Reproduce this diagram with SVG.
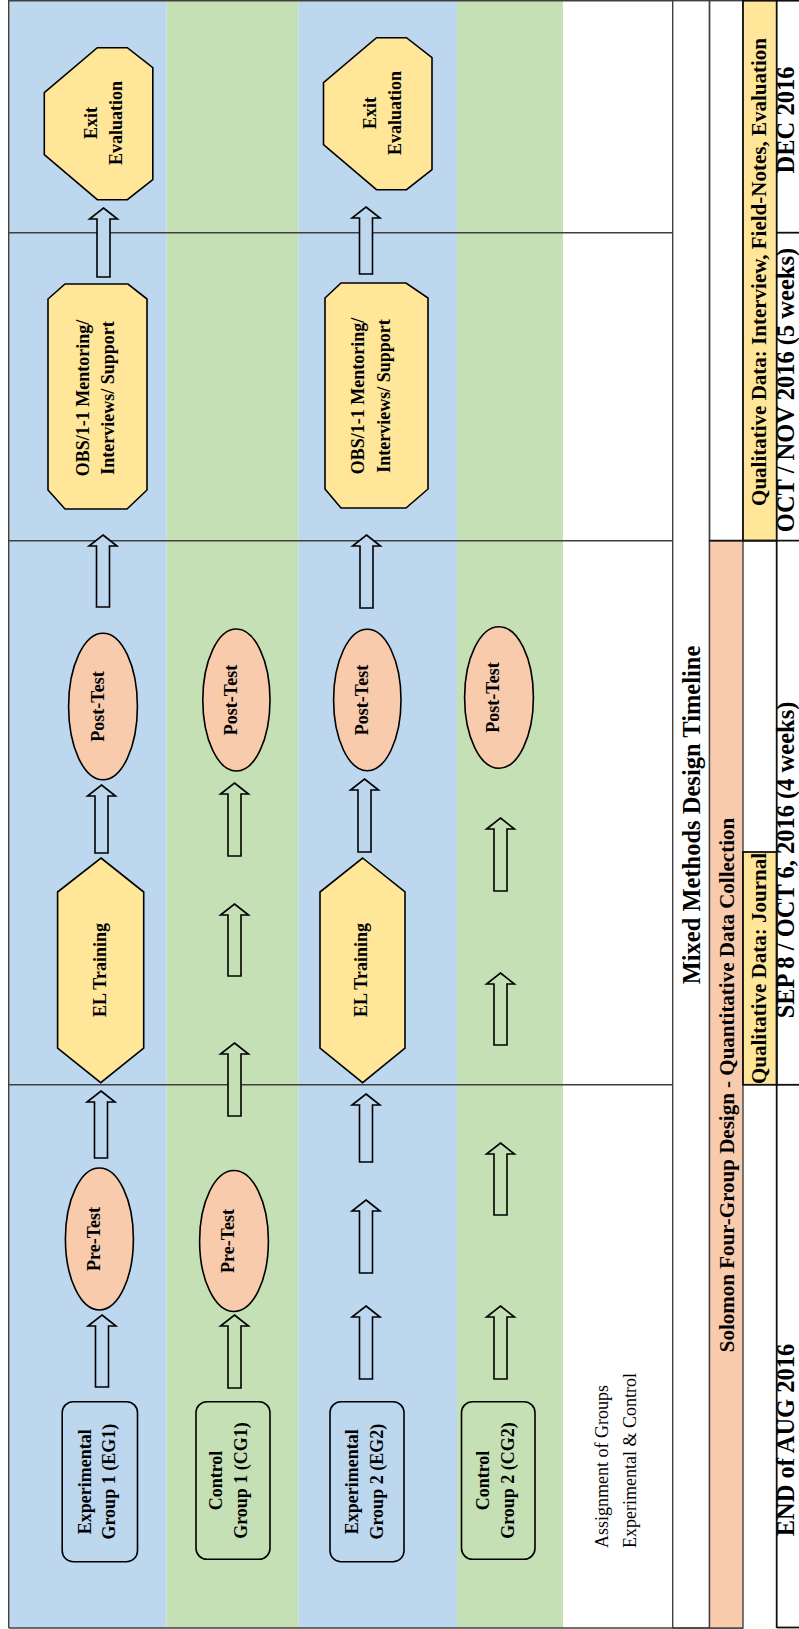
<svg xmlns="http://www.w3.org/2000/svg" width="799" height="1629" viewBox="0 0 799 1629">
  <style>
    .eg { fill: #BDD7EE; }
    .cg { fill: #C5E0B4; }
    .grid { stroke: #404040; stroke-width: 1.4; fill: none; }
    .bold-line { stroke: #111; stroke-width: 1.8; fill: none; }
    .shape { stroke: #000; stroke-width: 1.6; }
    .yel { fill: #FFE699; }
    .pch { fill: #F8CBAD; }
    .arrow { stroke: #000; stroke-width: 1.6; stroke-linejoin: miter; }
    text { font-family: "Liberation Serif", "Times New Roman", serif; font-weight: bold; font-size: 18px; text-anchor: middle; fill: #000; }
    .title { font-size: 24.5px; }
    .sub { font-size: 21px; }
    .date { font-size: 24.5px; }
    .plain { font-weight: normal; text-anchor: start; }
  </style>

  <!-- swimlane backgrounds -->
  <g id="lanes">
    <rect x="0" y="0" width="799" height="1629" fill="#FFFFFF"/>
    <rect class="eg" x="8.7" y="0" width="157.9" height="1628"/>
    <rect class="cg" x="166.6" y="0" width="132" height="1628"/>
    <rect class="eg" x="298.6" y="0" width="158.4" height="1628"/>
    <rect class="cg" x="457" y="0" width="106" height="1628"/>
  </g>

  <!-- table frame and header columns -->
  <g id="table">
    <line class="grid" x1="8.7" y1="0" x2="8.7" y2="1628"/>
    <line class="grid" x1="8.7" y1="0.7" x2="672.7" y2="0.7"/>
    <line class="grid" x1="8.7" y1="1628" x2="743" y2="1628"/>
    <line class="grid" x1="8.7" y1="232.7" x2="672.7" y2="232.7"/>
    <line class="grid" x1="8.7" y1="540.7" x2="672.7" y2="540.7"/>
    <line class="grid" x1="8.7" y1="1084.8" x2="672.7" y2="1084.8"/>

    <rect x="672.7" y="0.7" width="36.8" height="1627.3" fill="#8FAADC" class="grid"/>
    <rect x="709.5" y="0.7" width="33.5" height="540" fill="#FFFFFF" class="grid"/>
    <rect x="709.5" y="540.7" width="33.5" height="1087.3" class="pch grid"/>
    <rect x="743" y="0.7" width="33.7" height="540" class="yel bold-line"/>
    <rect x="743" y="852" width="33.7" height="232.8" class="yel bold-line"/>
    <line class="bold-line" x1="776.7" y1="540.7" x2="776.7" y2="1628"/>
    <line class="bold-line" x1="776.7" y1="0.7" x2="799" y2="0.7"/>
    <line class="bold-line" x1="776.7" y1="232.7" x2="799" y2="232.7"/>
    <line class="bold-line" x1="709.5" y1="540.7" x2="799" y2="540.7"/>
    <line class="bold-line" x1="776.7" y1="1084.8" x2="799" y2="1084.8"/>
    <line class="bold-line" x1="776.7" y1="1627.5" x2="799" y2="1627.5"/>

    <text class="title" transform="translate(0 815) rotate(-90)" x="0" y="700">Mixed Methods Design Timeline</text>
    <text class="sub" transform="translate(0 1085) rotate(-90)" x="0" y="733.5">Solomon Four-Group Design - Quantitative Data Collection</text>
    <text class="sub" transform="translate(0 272) rotate(-90)" x="0" y="766">Qualitative Data: Interview, Field-Notes, Evaluation</text>
    <text class="sub" transform="translate(0 968.5) rotate(-90)" x="0" y="766">Qualitative Data: Journal</text>

    <!-- date row, set tight against the right edge -->
    <text class="date" transform="translate(0 120) rotate(-90)" x="0" y="793.5">DEC 2016</text>
    <text class="date" transform="translate(0 390) rotate(-90)" x="0" y="793.5">OCT / NOV 2016 (5 weeks)</text>
    <text class="date" transform="translate(0 860) rotate(-90)" x="0" y="793.5">SEP 8 / OCT 6, 2016 (4 weeks)</text>
    <text class="date" transform="translate(0 1440) rotate(-90)" x="0" y="793.5">END of AUG 2016</text>

    <text class="plain" transform="translate(0 1548) rotate(-90)"><tspan x="0" y="608">Assignment of Groups</tspan><tspan x="0" y="636">Experimental &amp; Control</tspan></text>
  </g>

  <!-- block arrows between steps -->
  <g id="connectors">
    <path class="arrow eg" d="M102,1315 L116,1326 L108.5,1326 L108.5,1387 L95.5,1387 L95.5,1326 L88,1326 Z"/>
    <path class="arrow eg" d="M101,1091 L115,1102 L107.5,1102 L107.5,1158 L94.5,1158 L94.5,1102 L87,1102 Z"/>
    <path class="arrow eg" d="M101.5,785 L115.5,796 L108,796 L108,853 L95,853 L95,796 L87.5,796 Z"/>
    <path class="arrow eg" d="M103,535 L117,546 L109.5,546 L109.5,607 L96.5,607 L96.5,546 L89,546 Z"/>
    <path class="arrow eg" d="M103.5,208 L117.5,219 L110,219 L110,277 L97,277 L97,219 L89.5,219 Z"/>

    <path class="arrow cg" d="M234.5,1315 L248.5,1326 L241,1326 L241,1388 L228,1388 L228,1326 L220.5,1326 Z"/>
    <path class="arrow cg" d="M234.5,1043 L248.5,1054 L241,1054 L241,1116 L228,1116 L228,1054 L220.5,1054 Z"/>
    <path class="arrow cg" d="M234.5,904 L248.5,915 L241,915 L241,976 L228,976 L228,915 L220.5,915 Z"/>
    <path class="arrow cg" d="M234.5,783 L248.5,794 L241,794 L241,856 L228,856 L228,794 L220.5,794 Z"/>

    <path class="arrow eg" d="M366,1306 L380,1317 L372.5,1317 L372.5,1379 L359.5,1379 L359.5,1317 L352,1317 Z"/>
    <path class="arrow eg" d="M366,1200 L380,1211 L372.5,1211 L372.5,1273 L359.5,1273 L359.5,1211 L352,1211 Z"/>
    <path class="arrow eg" d="M366,1094 L380,1105 L372.5,1105 L372.5,1162 L359.5,1162 L359.5,1105 L352,1105 Z"/>
    <path class="arrow eg" d="M364.5,779 L378.5,790 L371,790 L371,852 L358,852 L358,790 L350.5,790 Z"/>
    <path class="arrow eg" d="M366.5,535 L380.5,546 L373,546 L373,608 L360,608 L360,546 L352.5,546 Z"/>
    <path class="arrow eg" d="M366,207 L380,218 L372.5,218 L372.5,274 L359.5,274 L359.5,218 L352,218 Z"/>

    <path class="arrow cg" d="M500.5,1306 L514.5,1317 L507,1317 L507,1379 L494,1379 L494,1317 L486.5,1317 Z"/>
    <path class="arrow cg" d="M500.5,1143 L514.5,1154 L507,1154 L507,1215 L494,1215 L494,1154 L486.5,1154 Z"/>
    <path class="arrow cg" d="M500.5,973 L514.5,984 L507,984 L507,1045 L494,1045 L494,984 L486.5,984 Z"/>
    <path class="arrow cg" d="M500.5,818 L514.5,829 L507,829 L507,891 L494,891 L494,829 L486.5,829 Z"/>
  </g>

  <!-- group boxes -->
  <g id="eg1-group">
    <rect class="shape eg" x="62.2" y="1401.7" width="75.3" height="160" rx="11"/>
    <text transform="translate(0 1481.7) rotate(-90)"><tspan x="0" y="91">Experimental</tspan><tspan x="0" y="115">Group 1 (EG1)</tspan></text>
  </g>
  <g id="cg1-group">
    <rect class="shape cg" x="196" y="1401.7" width="74" height="157.6" rx="11"/>
    <text transform="translate(0 1480.5) rotate(-90)"><tspan x="0" y="221.5">Control</tspan><tspan x="0" y="246.5">Group 1 (CG1)</tspan></text>
  </g>
  <g id="eg2-group">
    <rect class="shape eg" x="330" y="1401.7" width="74" height="160" rx="11"/>
    <text transform="translate(0 1481.7) rotate(-90)"><tspan x="0" y="357.5">Experimental</tspan><tspan x="0" y="383">Group 2 (EG2)</tspan></text>
  </g>
  <g id="cg2-group">
    <rect class="shape cg" x="461.5" y="1401.7" width="73.5" height="157.6" rx="11"/>
    <text transform="translate(0 1480.5) rotate(-90)"><tspan x="0" y="488.5">Control</tspan><tspan x="0" y="514">Group 2 (CG2)</tspan></text>
  </g>

  <!-- pre-tests -->
  <g id="eg1-pretest">
    <ellipse class="shape pch" cx="99.4" cy="1239" rx="34" ry="71"/>
    <text transform="translate(0 1239) rotate(-90)" x="0" y="99.5">Pre-Test</text>
  </g>
  <g id="cg1-pretest">
    <ellipse class="shape pch" cx="234" cy="1241" rx="34.4" ry="70.5"/>
    <text transform="translate(0 1241) rotate(-90)" x="0" y="234">Pre-Test</text>
  </g>

  <!-- training -->
  <g id="eg1-training">
    <polygon class="shape yel" points="101,858 143.7,892 143.7,1048 100.7,1082.7 57.6,1048 57.6,892"/>
    <text transform="translate(0 970) rotate(-90)" x="0" y="106">EL Training</text>
  </g>
  <g id="eg2-training">
    <polygon class="shape yel" points="362.6,858 405,892 405,1048 362.6,1082.7 320,1048 320,892"/>
    <text transform="translate(0 970) rotate(-90)" x="0" y="367">EL Training</text>
  </g>

  <!-- post-tests -->
  <g id="eg1-posttest">
    <ellipse class="shape pch" cx="103" cy="706.5" rx="34.4" ry="73.3"/>
    <text transform="translate(0 706.5) rotate(-90)" x="0" y="103.5">Post-Test</text>
  </g>
  <g id="cg1-posttest">
    <ellipse class="shape pch" cx="236.4" cy="700" rx="33.6" ry="71"/>
    <text transform="translate(0 700) rotate(-90)" x="0" y="236.5">Post-Test</text>
  </g>
  <g id="eg2-posttest">
    <ellipse class="shape pch" cx="367.3" cy="700" rx="33.7" ry="70.7"/>
    <text transform="translate(0 700) rotate(-90)" x="0" y="367.5">Post-Test</text>
  </g>
  <g id="cg2-posttest">
    <ellipse class="shape pch" cx="499" cy="697.5" rx="34.4" ry="70.8"/>
    <text transform="translate(0 697.5) rotate(-90)" x="0" y="499">Post-Test</text>
  </g>

  <!-- observation / mentoring -->
  <g id="eg1-mentoring">
    <polygon class="shape yel" points="65,284 128,284 147,299 147,490 127,509 65,509 48,490 48,299"/>
    <text transform="translate(0 398) rotate(-90)"><tspan x="0" y="89">OBS/1-1 Mentoring/</tspan><tspan x="0" y="114">Interviews/ Support</tspan></text>
  </g>
  <g id="eg2-mentoring">
    <polygon class="shape yel" points="341,283 406,283 428,298 428,489 406,508 341,508 325,489 325,298"/>
    <text transform="translate(0 396) rotate(-90)"><tspan x="0" y="364">OBS/1-1 Mentoring/</tspan><tspan x="0" y="390">Interviews/ Support</tspan></text>
  </g>

  <!-- exit evaluations -->
  <g id="eg1-exit">
    <polygon class="shape yel" points="97.3,47.7 127.3,47.7 152.8,67.7 152.8,179.7 127.3,199.7 97.3,199.7 44.3,154.7 44.3,92.7"/>
    <text transform="translate(0 123) rotate(-90)"><tspan x="0" y="97">Exit</tspan><tspan x="0" y="122">Evaluation</tspan></text>
  </g>
  <g id="eg2-exit">
    <polygon class="shape yel" points="376.5,37.7 406.5,37.7 432,57.7 432,169.7 406.5,189.7 376.5,189.7 323.5,144.7 323.5,82.7"/>
    <text transform="translate(0 113) rotate(-90)"><tspan x="0" y="376">Exit</tspan><tspan x="0" y="401">Evaluation</tspan></text>
  </g>
</svg>
